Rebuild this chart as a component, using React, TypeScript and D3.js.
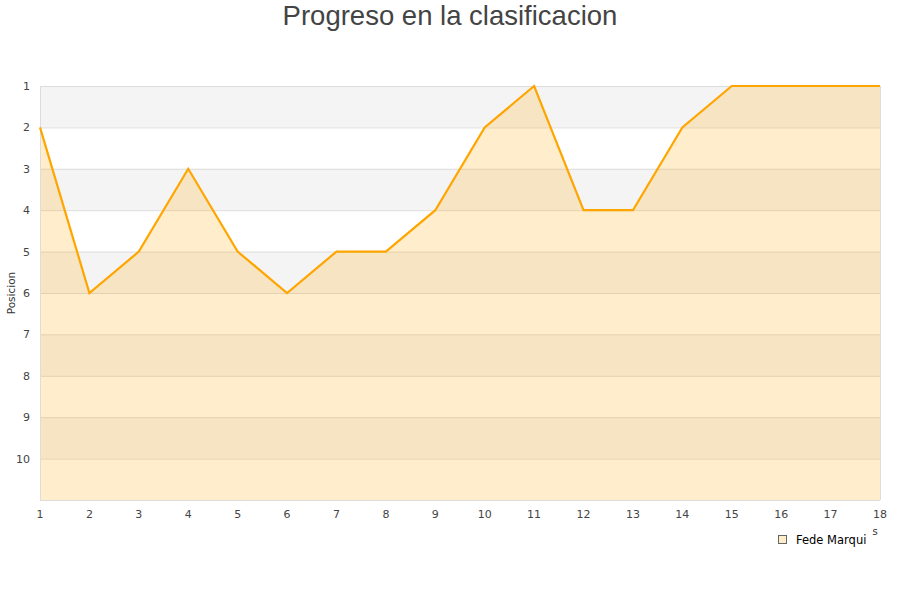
import * as d3 from 'd3';
import { useEffect, useRef } from 'react';

const WIDTH = 900;
const HEIGHT = 600;
const MARGIN = { top: 86, right: 20, bottom: 100, left: 40 };

const jornadas = [1, 2, 3, 4, 5, 6, 7, 8, 9, 10, 11, 12, 13, 14, 15, 16, 17, 18];
const posiciones = [2, 6, 5, 3, 5, 6, 5, 5, 4, 2, 1, 4, 4, 2, 1, 1, 1, 1];
const yTicks = [1, 2, 3, 4, 5, 6, 7, 8, 9, 10];
const serieNombre = 'Fede Marqui';

const App = () => {
    const svgRef = useRef(null);
    const boundsWidth = WIDTH - MARGIN.left - MARGIN.right;
    const boundsHeight = HEIGHT - MARGIN.top - MARGIN.bottom;

    useEffect(() => {
        const svg = d3.select(svgRef.current);
        svg.selectAll('*').remove();

        const xScale = d3.scaleLinear().domain([1, 18]).range([0, boundsWidth]);
        const yScale = d3.scaleLinear().domain([1, 11]).range([0, boundsHeight]);

        svg.append('text')
            .attr('x', WIDTH / 2)
            .attr('y', 25)
            .attr('text-anchor', 'middle')
            .attr('font-family', '"Liberation Sans", Arial, sans-serif')
            .attr('font-size', 27.5)
            .attr('fill', '#444')
            .text('Progreso en la clasificacion');

        const g = svg.append('g')
            .attr('transform', `translate(${MARGIN.left}, ${MARGIN.top})`);

        // alternating bands
        const bands = d3.range(1, 11);
        g.selectAll('rect.band')
            .data(bands)
            .join('rect')
            .attr('x', 0)
            .attr('y', (d) => yScale(d))
            .attr('width', boundsWidth)
            .attr('height', (d) => yScale(d + 1) - yScale(d))
            .attr('fill', (d) => (d % 2 === 1 ? '#f4f4f4' : '#ffffff'));

        // grid lines
        g.selectAll('line.grid')
            .data(yTicks)
            .join('line')
            .attr('x1', 0)
            .attr('x2', boundsWidth)
            .attr('y1', (d) => yScale(d) + 0.5)
            .attr('y2', (d) => yScale(d) + 0.5)
            .attr('stroke', '#dddddd')
            .attr('stroke-width', 1);

        // area
        const area = d3.area<number>()
            .x((d, i) => xScale(jornadas[i]))
            .y0(boundsHeight)
            .y1((d) => yScale(d));

        g.append('path')
            .datum(posiciones)
            .attr('d', area)
            .attr('fill', 'rgba(255,165,0,0.2)');

        // frame
        g.append('line')
            .attr('x1', 0.5).attr('x2', 0.5)
            .attr('y1', 0).attr('y2', boundsHeight)
            .attr('stroke', '#dddddd');
        g.append('line')
            .attr('x1', boundsWidth + 0.5).attr('x2', boundsWidth + 0.5)
            .attr('y1', 0).attr('y2', boundsHeight)
            .attr('stroke', '#dddddd');
        g.append('line')
            .attr('x1', 0).attr('x2', boundsWidth)
            .attr('y1', boundsHeight + 0.5).attr('y2', boundsHeight + 0.5)
            .attr('stroke', '#dddddd');

        const line = d3.line<number>()
            .x((d, i) => xScale(jornadas[i]))
            .y((d) => yScale(d));

        g.append('path')
            .datum(posiciones)
            .attr('d', line)
            .attr('fill', 'none')
            .attr('stroke', '#ffa500')
            .attr('stroke-width', 2.2)
            .attr('stroke-linejoin', 'miter');

        const tickFont = '"DejaVu Sans", sans-serif';

        // y tick labels
        g.selectAll('text.ytick')
            .data(yTicks)
            .join('text')
            .attr('x', -10)
            .attr('y', (d) => yScale(d) + 4)
            .attr('text-anchor', 'end')
            .attr('font-family', tickFont)
            .attr('font-size', 11)
            .attr('fill', '#444')
            .text((d) => d);

        // x tick labels
        g.selectAll('text.xtick')
            .data(jornadas)
            .join('text')
            .attr('x', (d) => xScale(d))
            .attr('y', boundsHeight + 18)
            .attr('text-anchor', 'middle')
            .attr('font-family', tickFont)
            .attr('font-size', 11)
            .attr('fill', '#444')
            .text((d) => d);

        // y axis label
        svg.append('text')
            .attr('transform', `translate(15, ${MARGIN.top + boundsHeight / 2}) rotate(-90)`)
            .attr('text-anchor', 'middle')
            .attr('font-family', tickFont)
            .attr('font-size', 10.5)
            .attr('fill', '#333')
            .text('Posicion');

        // clipped x axis title remnant
        svg.append('text')
            .attr('x', 875)
            .attr('y', 535)
            .attr('text-anchor', 'middle')
            .attr('font-family', tickFont)
            .attr('font-size', 10)
            .attr('fill', '#333')
            .text('s');

        // legend
        const legend = svg.append('g').attr('transform', 'translate(778, 535)');
        legend.append('rect')
            .attr('x', 0.5).attr('y', 0.5)
            .attr('width', 8).attr('height', 8)
            .attr('fill', '#ffecc8')
            .attr('stroke', '#666');
        legend.append('text')
            .attr('x', 18)
            .attr('y', 8.5)
            .attr('font-family', tickFont)
            .attr('font-size', 11.5)
            .attr('fill', '#000')
            .text(serieNombre);
    }, []);

    return (
        <svg
            ref={svgRef}
            width={WIDTH}
            height={HEIGHT}
            style={{ position: 'absolute', left: 0, top: 0, background: '#fff' }}
        />
    );
};

export default App;
